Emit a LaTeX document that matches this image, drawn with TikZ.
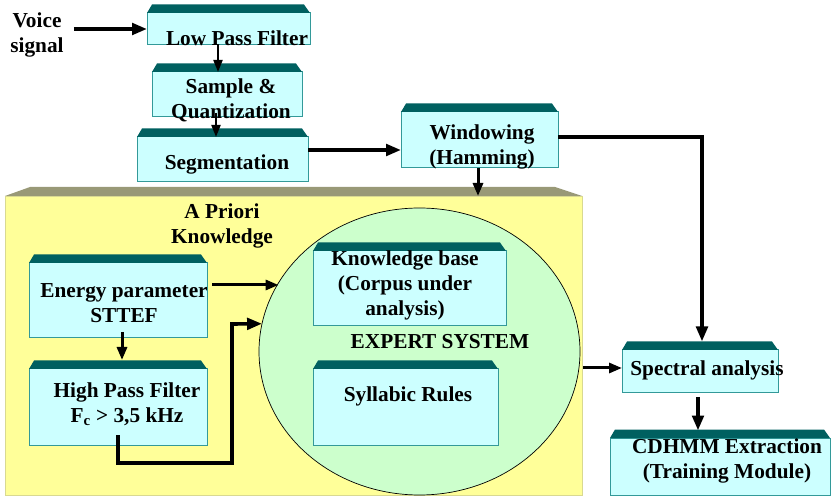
\documentclass[tikz,border=0pt]{standalone}
\usepackage{fontspec}
\setmainfont{Liberation Serif}
\usetikzlibrary{arrows.meta,shapes.geometric}
\definecolor{facec}{HTML}{CCFFFF}
\definecolor{edgec}{HTML}{339999}
\definecolor{bevelc}{HTML}{006060}
\definecolor{panelc}{HTML}{FFFF99}
\definecolor{panelbev}{HTML}{999977}
\definecolor{esc}{HTML}{CCFFCC}
\tikzset{
  boxface/.style={draw=edgec, fill=facec, line width=1pt, inner sep=0pt, outer sep=0pt, rectangle},
  txt/.style={font=\bfseries\fontsize{21.3}{25}\selectfont, align=center, inner sep=0pt, text=black},
  arr/.style={-{Triangle[length=15pt,width=11.5pt]}, line width=3.6pt},
  arrm/.style={-{Triangle[length=13pt,width=10pt]}, line width=3pt},
  arrs/.style={-{Triangle[length=12pt,width=9pt]}, line width=2pt},
}
\newcommand\cbox[5]{%
  \node[boxface, anchor=north west, minimum width={(#4-#2)*1pt}, minimum height={(#5-#3)*1pt}] (#1) at (#2,#3) {};
  \fill[bevelc] (#1.north west) -- ++(5,-8.5) -- ([shift={(-6,-8.5)}]#1.north east) -- (#1.north east) -- cycle;
}
\begin{document}
\begin{tikzpicture}[x=1pt,y=-1pt]
\useasboundingbox (0,0) rectangle (831,497);
% panel
\node[fill=panelc, draw=panelc!70!gray, line width=0.6pt, inner sep=0pt, outer sep=0pt, rectangle, anchor=north west, minimum width=577pt, minimum height=299pt] (panel) at (5,196) {};
\fill[panelbev] (panel.north west) -- ++(25,-9) -- ([shift={(-27,-9)}]panel.north east) -- (panel.north east) -- cycle;
% ellipse
\node[ellipse, draw=black, line width=0.7pt, fill=esc, minimum width=321pt, minimum height=287pt, inner sep=0pt, outer sep=0pt] (es) at (419.5,351.5) {};
% boxes
\cbox{lpf}{147}{13}{310}{45}
\cbox{sq}{152}{72}{302}{117}
\cbox{seg}{137}{137}{308}{182}
\cbox{win}{401}{112}{558}{168}
\cbox{kb}{313}{251}{506}{326}
\cbox{syl}{313}{369}{498}{445}
\cbox{en}{29}{263}{207}{338}
\cbox{hp}{29}{369}{207}{445}
\cbox{spec}{622}{350}{778}{393}
\cbox{cd}{610}{438}{830}{495}
% texts
\node[txt] (voice) at (37,35) {Voice\\signal};
\node[txt] (lpft) at (237,38) {Low Pass Filter};
\node[txt] (sqt) at (231,100) {Sample \&\\Quantization};
\node[txt] (segt) at (227,164) {Segmentation};
\node[txt] (wint) at (482,147) {Windowing\\(Hamming)};
\node[txt] (aprt) at (222,226) {A Priori\\Knowledge};
\node[txt] (kbt) at (405,285) {Knowledge base\\(Corpus under\\analysis)};
\node[txt] (est) at (440,342) {EXPERT SYSTEM};
\node[txt] (sylt) at (408,396) {Syllabic Rules};
\node[txt] (ent) at (124,303) {Energy parameter\\STTEF};
\node[txt] (hpt) at (127,404) {High Pass Filter\\F\textsubscript{c} > 3,5 kHz};
\node[txt] (spect) at (707,370) {Spectral analysis};
\node[txt] (cdt) at (727,461) {CDHMM Extraction\\(Training Module)};
% connectors
\draw[arr] ([xshift=10]voice.east |- lpf.west) -- (lpf.west);
\draw[arrs] ([xshift=-10.5]lpf.south) -- ([xshift=-9]sq.north);
\draw[arrs] ([shift={(-11,-4)}]sq.south) -- ([xshift=-6.5]seg.north);
\draw[arr] ([yshift=9.5]seg.east) coordinate (a1) -- (a1 -| win.west);
\draw[arrm] ([xshift=-1.5]win.south) coordinate (a2) -- (a2 |- panel.north);
\draw[arr] ([yshift=3]win.east) -| ([shift={(2,-8.5)}]spec.north);
\draw[arrm] ([shift={(5,-15.5)}]en.east) coordinate (a3) -- (a3 -| es.154.9);
\draw[arr] ([yshift=10]hp.south) -- ++(0,28) -- ++(114,0) -- ++(0,-139) -- (es.170.1);
\draw[arrm] ([yshift=3.5]spec.west) coordinate (a4) ++(-39,0) -- (a4);
\draw[arrm] ([shift={(4,-6)}]en.south) -- ([shift={(4,-9)}]hp.north);
\draw[arr] ([shift={(-2,4)}]spec.south) -- ([shift={(-2,-7.5)}]cd.north -| spec.south);
\end{tikzpicture}
\end{document}
